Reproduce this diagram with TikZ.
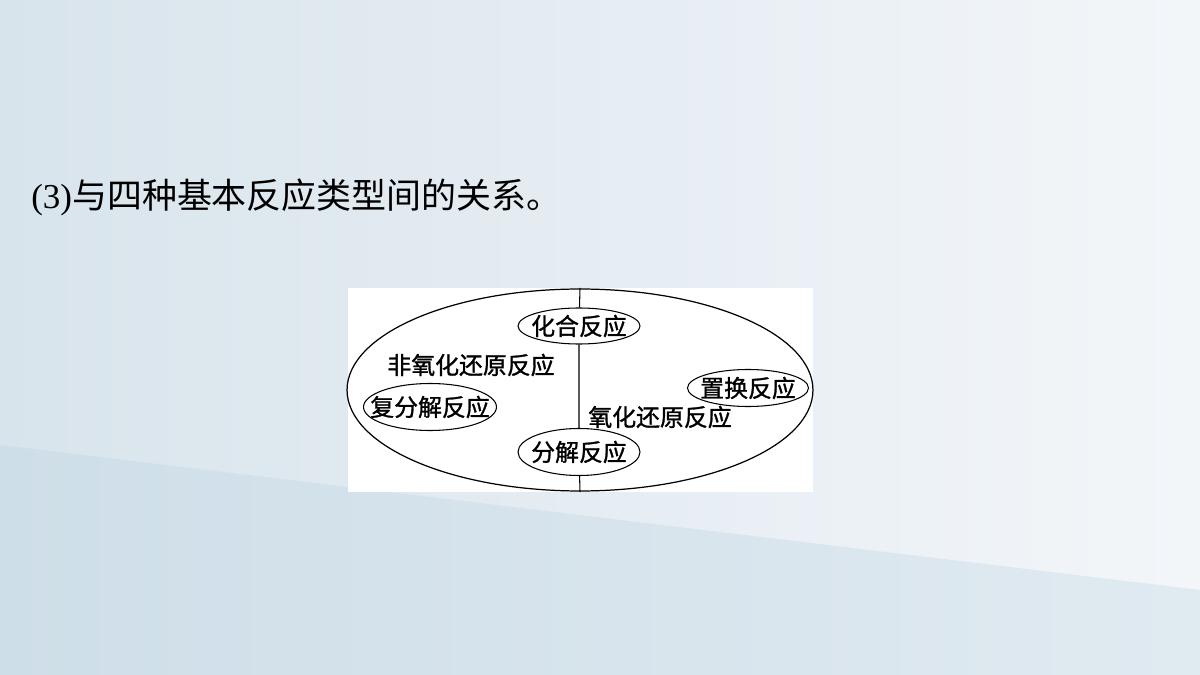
\documentclass[tikz,border=0pt]{standalone}
\usepackage{fontspec}
\setmainfont{Liberation Serif}
\newfontfamily\cjk{Noto Sans CJK SC}
\newfontfamily\cjkheavy[FakeBold=1.2]{Noto Sans CJK SC}
\usetikzlibrary{shapes.geometric}
\definecolor{bgleft}{HTML}{D8E4EC}
\definecolor{bgright}{HTML}{F3F6F9}
\definecolor{bandleft}{HTML}{CEDEE8}
\definecolor{bandright}{HTML}{E0EAF1}
\newcommand{\squeeze}[1]{\makebox[0pt]{#1}}
\tikzset{
    kind/.style = {ellipse, draw, fill=white, line width=0.6pt, inner sep=0pt, font=\cjkheavy\fontsize{13.6}{16}\selectfont},
    tag/.style = {inner sep=0pt, font=\cjkheavy\fontsize{13.6}{16}\selectfont}
}
\begin{document}
\begin{tikzpicture}[x=0.02cm, y=-0.02cm]
            % background
            \shade[left color=bgleft, right color=bgright] (0,0) rectangle (1200,675);
            \shade[left color=bandleft, right color=bandright] (0,445) -- (1200,590) -- (1200,675) -- (0,675) -- cycle;
            \useasboundingbox (0,0) rectangle (1200,675);
            \node[anchor=west, inner sep=0pt] (title) at (31,197) {\fontsize{19.9}{24}\selectfont (3){\cjk 与四种基本反应类型间的关系。}};
            % diagram
            \fill[white] (348,288) rectangle (813,492);
            \node[ellipse, draw, line width=0.7pt, minimum width=9.32cm, minimum height=4.04cm, inner sep=0pt] (all) at (580,390) {};
            \coordinate (top) at (580,288);
            \coordinate (bot) at (580,492);
            \node[kind, minimum width=2.44cm, minimum height=0.72cm] (hh) at (579,326) {\squeeze{化合反应}};
            \node[kind, minimum width=2.44cm, minimum height=0.94cm] (fj) at (579,452) {\squeeze{分解反应}};
            \node[kind, minimum width=2.66cm, minimum height=0.94cm] (ffj) at (430,407) {\squeeze{复分解反应}};
            \node[kind, minimum width=2.42cm, minimum height=0.74cm] (zh) at (748,388) {\squeeze{置换反应}};
            \node[tag] (nonredox) at (471,365) {非氧化还原反应};
            \node[tag] (redox) at (660,417) {氧化还原反应};
            \draw[line width=0.6pt] (top) -- (hh) (hh) -- (fj) (fj) -- (bot);
        \end{tikzpicture}
\end{document}
